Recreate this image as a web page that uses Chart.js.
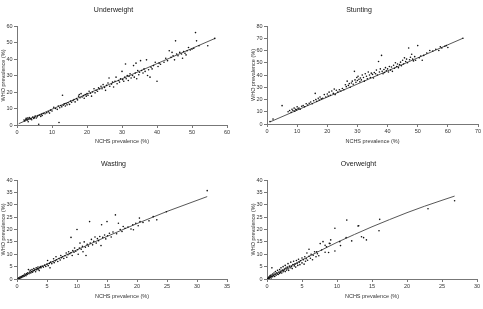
<!DOCTYPE html>
<html>
<head>
<meta charset="utf-8">
<script src="https://cdn.jsdelivr.net/npm/chart.js@4.4.0/dist/chart.umd.min.js"></script>
<style>
body { margin: 0; background: #fff; }
.box { position: absolute; }
</style>
</head>
<body>
<div class="box" style="left:0;top:0"><canvas id="c1" width="240" height="155"></canvas></div>
<div class="box" style="left:240px;top:0"><canvas id="c2" width="243" height="155"></canvas></div>
<div class="box" style="left:0;top:155px"><canvas id="c3" width="240" height="154"></canvas></div>
<div class="box" style="left:240px;top:155px"><canvas id="c4" width="243" height="154"></canvas></div>
<script>
// NCHS (x) vs WHO (y) prevalence
const underweightPts = [[2,3],[2.2,2.5],[2.5,3.2],[2.6,4],[2.8,3.5],[3,3],[3,4.2],[3.2,2],[3.4,3.8],[3.5,4.5],[3.8,3.6],[4,4],[4.2,3.2],[4.5,4.8],[4.8,4],[5,4.5],[5.2,5.5],[5.5,4.2],[5.8,5],[6,5.8],[6.2,0.5],[6.5,6],[6.8,5.2],[7,6.5],[7.2,5.8],[7.5,7],[8,6.8],[8.5,7.5],[9,8],[9.3,7.2],[9.6,9],[10,8.5],[10.5,10.8],[11,10],[11.5,9.5],[11.8,11.5],[12,1.5],[12.2,10.5],[12.5,11.8],[12.8,11],[13,18],[13.2,12],[13.5,12.8],[13.8,11.5],[14,13],[14.3,12.2],[14.6,13.5],[15,12.5],[15.3,14.5],[15.6,13.8],[16,14.8],[16.3,15.5],[16.6,14],[17,16],[17.3,15.2],[17.6,17.5],[17.8,18.5],[18,16.5],[18.3,19],[18.6,17],[19,17.8],[19.2,16.2],[19.5,18.5],[19.8,17.5],[20,19],[20.3,18],[20.6,20.5],[21,19.2],[21.3,17.5],[21.6,20],[22,22],[22.3,19.5],[22.6,21],[23,20.5],[23.3,22.5],[23.6,21.8],[24,23.5],[24.3,22],[24.6,24.5],[25,22.8],[25.3,21],[25.6,24],[26,25.5],[26.3,28.5],[26.5,23.5],[27,24.8],[27.3,26],[27.6,23],[28,26.5],[28.3,29],[28.6,25],[29,27],[29.3,26],[29.6,28],[30,32.5],[30.2,27.5],[30.5,26.5],[30.8,29],[31,37],[31.2,28],[31.5,30],[31.8,27],[32,29.5],[32.3,31],[32.6,28.5],[33,30],[33.3,36],[33.5,29],[33.8,31.5],[34,37.5],[34.2,28],[34.5,33],[34.8,30.5],[35,32],[35.3,39],[35.6,33],[36,31.5],[36.3,34],[36.6,32.5],[37,39.5],[37.3,30],[37.6,33.5],[38,29],[38.3,35],[38.6,34],[39,36],[39.5,38],[40,26.5],[40.3,35.5],[40.6,37.5],[41,36.8],[42,38],[42.5,40.5],[43,39],[43.5,45],[44,41],[44.3,44],[44.6,42],[45,39.5],[45.3,51],[45.6,43],[46,42],[46.5,44],[47,43],[47.3,40.5],[47.6,44.5],[48,43.5],[48.3,42.5],[48.6,45],[49,47],[49.5,45.5],[50,46],[50.5,46.5],[51,56],[51.3,51],[52,48],[54.5,48],[56.5,52.5]];
const underweightLine = [[0.5,0.8],[56.6,52.5]];

const stuntingPts = [[1,2],[2,4],[5,15],[7,10],[7.5,11],[8,9.5],[8.3,12],[8.6,11],[9,13],[9.2,10.5],[9.5,12],[9.8,11.5],[10,14],[10.3,12.5],[10.6,13],[11,12],[11.5,14.5],[12,15],[12.5,14],[13,16.5],[13.5,15.5],[14,17],[14.5,18],[15,16.5],[15.5,19],[16,25],[16.2,20],[16.5,18.5],[17,21],[17.3,19.5],[17.6,22],[18,20.5],[18.5,21],[19,24],[19.5,22],[20,24.5],[20.3,22.8],[20.6,26],[21,23.5],[21.5,27],[22,25],[22.3,28.5],[22.6,24],[23,27.5],[23.5,26],[24,28],[24.5,27],[25,29],[25.5,28],[26,32],[26.3,30.5],[26.6,35],[27,31.5],[27.3,33],[27.6,30],[28,33.5],[28.3,35],[28.6,32.5],[29,43],[29.2,36],[29.5,34],[29.8,38],[30,35.5],[30.2,39],[30.5,36.5],[30.8,34.5],[31,37.5],[31.3,36],[31.6,40],[32,38],[32.3,35],[32.6,41],[33,39],[33.3,37],[33.6,42.5],[34,40],[34.3,38],[34.6,41.5],[35,40.5],[35.3,37.5],[35.6,42],[36,41],[36.3,44],[36.6,40],[37,51],[37.3,42.5],[37.6,45],[38,56],[38.2,43],[38.5,41],[38.8,44.5],[39,42],[39.3,46],[39.6,43.5],[40,45],[40.3,42.5],[40.6,47],[41,44],[41.3,46.5],[41.6,43],[42,48],[42.3,45.5],[42.6,50],[43,47],[43.3,49],[43.6,46],[44,48.5],[44.3,50.5],[44.6,47.5],[45,52],[45.3,49],[45.6,54],[46,51],[46.3,53],[46.6,50],[47,62],[47.3,52.5],[47.6,54.5],[48,57],[48.3,53],[48.6,51.5],[49,55],[49.3,52],[50,64],[50.5,54],[51,55.5],[51.5,52],[52,56],[53,58],[54,60],[55,59.5],[56,61],[57,60],[57.5,63],[58,62],[59,63.5],[59.5,64],[60,62.5],[65,70]];
const stuntingLine = [[0.9,1.6],[65,70]];

const wastingPts = [[0.2,0.1],[0.3,0.5],[0.4,0.2],[0.5,0.8],[0.6,0.4],[0.7,1],[0.8,0.6],[0.9,1.3],[1,0.9],[1.1,1.5],[1.2,1.1],[1.3,2],[1.4,1.6],[1.5,1.3],[1.6,2.2],[1.7,1.8],[1.8,2.5],[1.9,3.8],[2,2.1],[2.1,2.8],[2.2,3.5],[2.3,2.4],[2.4,3],[2.5,3.8],[2.6,2.7],[2.7,3.3],[2.8,4.2],[2.9,3.5],[3,3.9],[3.1,2.9],[3.2,4.5],[3.3,3.7],[3.4,4.2],[3.5,4.8],[3.6,4],[3.7,3.4],[3.8,4.6],[3.9,5],[4,4.5],[4.2,5.2],[4.4,4.8],[4.6,5.6],[4.8,5.1],[5,6],[5.1,7.5],[5.2,5.4],[5.4,6.3],[5.5,4.5],[5.6,6.8],[5.8,6.2],[6,7],[6.1,8.2],[6.2,6.6],[6.4,7.4],[6.5,9],[6.6,7.8],[6.8,7.1],[7,8.3],[7.2,7.7],[7.3,9.5],[7.4,8.6],[7.6,9],[7.8,8.3],[8,9.4],[8.2,10.5],[8.3,8.8],[8.5,9.8],[8.6,11],[8.8,10.2],[9,16.8],[9,10.6],[9.2,9.5],[9.3,11.5],[9.5,10.8],[9.6,12.5],[9.8,11.2],[10,20],[10.1,11.8],[10.2,10],[10.4,12.5],[10.5,14.5],[10.7,12],[10.9,13.2],[11,11],[11.2,15],[11.4,12.8],[11.5,9.5],[11.7,14],[11.9,13.3],[12.1,23.2],[12.2,14.5],[12.4,16],[12.6,13.8],[12.8,15.2],[13,17],[13.2,14.5],[13.4,16.3],[13.6,15.5],[13.8,17.2],[14,13.5],[14.1,21.9],[14.3,16.8],[14.6,17.8],[14.8,16.2],[15,23.2],[15.1,17.5],[15.4,18.5],[15.7,17],[16,19],[16.4,25.9],[16.6,18.3],[16.9,22.5],[17.2,20],[17.5,19.2],[17.7,21.2],[18,20.5],[18.5,21],[19,20.2],[19.3,21.9],[19.4,19.9],[19.8,22.5],[20.2,21.5],[20.4,24.6],[20.5,23.2],[21,22.8],[22,23.5],[22.7,25.2],[23.3,23.9],[24.9,27.2],[31.7,35.7]];
const wastingLine = [[0,0],[5,6],[10,11.8],[15,17.2],[20,22.4],[25,27.3],[31.7,33.3]];

const overweightPts = [[0.1,0.1],[0.2,0.3],[0.2,0.6],[0.3,0.2],[0.3,0.9],[0.4,0.5],[0.4,1.2],[0.5,0.8],[0.5,1.5],[0.6,0.4],[0.6,1.1],[0.7,4.5],[0.7,1.6],[0.8,0.9],[0.8,2],[0.9,1.3],[1,1.7],[1,2.4],[1.1,1],[1.2,2],[1.2,3],[1.3,1.5],[1.4,2.5],[1.5,2],[1.5,3.5],[1.6,1.8],[1.7,2.8],[1.8,2.2],[1.8,3.8],[1.9,2.6],[2,3.2],[2,4.5],[2.1,2.4],[2.2,3.6],[2.3,2.9],[2.3,5],[2.4,3.4],[2.5,4],[2.6,3],[2.6,5.5],[2.7,4.4],[2.8,3.6],[2.9,4.8],[3,4.1],[3,6.2],[3.1,3.5],[3.2,5.2],[3.3,4.5],[3.4,6.8],[3.5,5],[3.6,4.2],[3.7,5.8],[3.8,7.2],[3.9,5.3],[4,6],[4.1,4.8],[4.2,7.5],[4.3,6.3],[4.4,5.5],[4.5,8],[4.6,6.8],[4.7,5.8],[4.8,7.4],[5,8.5],[5,6.5],[5.2,7.8],[5.3,6],[5.4,9],[5.5,7.2],[5.6,8.2],[5.7,10.5],[5.8,7.6],[6,9.2],[6,12],[6.2,8.4],[6.3,10],[6.5,7.8],[6.6,9.6],[6.8,11],[7,9],[7.1,11],[7.2,10.2],[7.4,9.4],[7.6,14.3],[7.8,11.7],[8,15.1],[8.3,10.8],[8.3,13.6],[8.5,13],[8.8,10.7],[8.9,14.4],[9,14.3],[9.1,15.8],[9.7,20.5],[9.7,11.3],[10.4,15.1],[10.5,13.5],[11.3,16.7],[11.4,23.8],[12.1,15.4],[13,21.4],[13.1,21.5],[13.5,17.1],[13.8,16.7],[14.2,15.8],[16,19.5],[16.1,24.1],[23,28.4],[26.8,31.6]];
const overweightLine = [[0,0],[2.5,3.9],[5,7.7],[7.5,11.3],[10,14.8],[12.5,18],[15,21.1],[17.5,24],[20,26.8],[22.5,29.4],[25,31.8],[26.8,33.5]];

Chart.defaults.font.family = "'Liberation Sans', Arial, sans-serif";
Chart.defaults.color = "#333";

function toXY(arr) {
    return arr.map(p => ({ x: p[0], y: p[1] }));
}

function makePanel(id, title, pts, trend, xMax, xStep, yMax, yStep, g) {
    var axisGrid = { drawOnChartArea: false, drawTicks: true, tickLength: 3, color: "#777" };
    new Chart(document.getElementById(id), {
        type: "scatter",
        data: {
            datasets: [{
                data: toXY(pts),
                pointRadius: 0.8,
                pointBorderWidth: 0,
                backgroundColor: "#111"
            }, {
                type: "line",
                data: toXY(trend),
                pointRadius: 0,
                borderColor: "#444",
                borderWidth: 0.9,
                fill: false
            }]
        },
        options: {
            responsive: false,
            animation: false,
            devicePixelRatio: 1,
            layout: { padding: { left: 0, right: g.right, top: 0, bottom: 0 } },
            plugins: {
                legend: { display: false },
                tooltip: { enabled: false },
                title: {
                    display: true,
                    text: title,
                    color: "#222",
                    font: { size: 7, weight: "normal", lineHeight: 1 },
                    padding: { top: g.titleTop, bottom: g.top - 7 - g.titleTop }
                }
            },
            scales: {
                x: {
                    type: "linear",
                    min: 0, max: xMax,
                    ticks: { stepSize: xStep, autoSkip: false, font: { size: 5.5 }, padding: 1.5, maxRotation: 0 },
                    grid: axisGrid,
                    border: { color: "#777" },
                    title: { display: true, text: "NCHS prevalence (%)", font: { size: 5.5, lineHeight: 1 }, padding: { top: 0, bottom: g.xTitle } },
                    afterFit: function (s) { s.height = g.xh; }
                },
                y: {
                    min: 0, max: yMax,
                    ticks: { stepSize: yStep, autoSkip: false, font: { size: 5.5 }, padding: 1.5 },
                    grid: axisGrid,
                    border: { color: "#777" },
                    title: { display: true, text: "WHO prevalence (%)", font: { size: 5.5, lineHeight: 1 }, padding: { top: g.yTitle, bottom: 0 } },
                    afterFit: function (s) { s.width = g.yw; }
                }
            }
        }
    });
}

makePanel("c1", "Underweight", underweightPts, underweightLine, 60, 10, 60, 10,
    { right: 13, top: 26, titleTop: 6.5, xh: 30, xTitle: 11.2, yw: 17, yTitle: 0.5 });
makePanel("c2", "Stunting", stuntingPts, stuntingLine, 70, 10, 80, 10,
    { right: 5, top: 26, titleTop: 6.5, xh: 31, xTitle: 10.5, yw: 27, yTitle: 11 });
makePanel("c3", "Wasting", wastingPts, wastingLine, 35, 5, 40, 5,
    { right: 13, top: 25, titleTop: 5.5, xh: 30, xTitle: 9.3, yw: 17, yTitle: 0.5 });
makePanel("c4", "Overweight", overweightPts, overweightLine, 30, 5, 40, 5,
    { right: 6, top: 25, titleTop: 5.5, xh: 30, xTitle: 9.5, yw: 27, yTitle: 11 });
</script>
</body>
</html>
